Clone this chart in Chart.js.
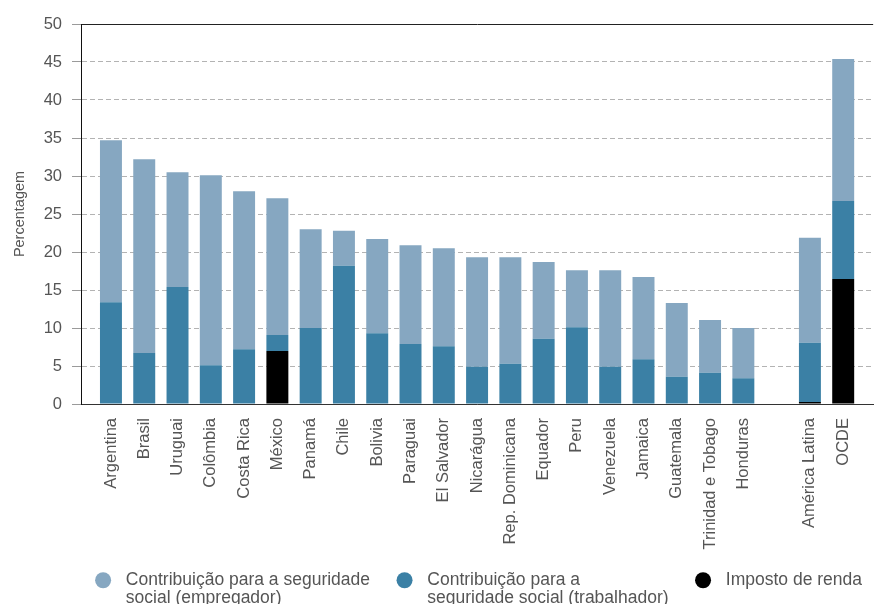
<!DOCTYPE html>
<html>
<head>
<meta charset="utf-8">
<script src="https://cdn.jsdelivr.net/npm/chart.js@4.4.1/dist/chart.umd.min.js"></script>
<style>
html,body{margin:0;padding:0;background:#fff;overflow:hidden}
#wrap{width:877px;height:604px;position:relative}
</style>
</head>
<body>
<div id="wrap"><canvas id="c"></canvas></div>
<script>
// ---- data ----
const categories = ['Argentina','Brasil','Uruguai','Colômbia','Costa Rica','México','Panamá','Chile','Bolivia','Paraguai','El Salvador','Nicarágua','Rep. Dominicana','Equador','Peru','Venezuela','Jamaica','Guatemala','Trinidad e Tobago','Honduras','','América Latina','OCDE'];
const impostoRenda = [0,0,0,0,0,6.97,0,0,0,0,0,0,0,0,0,0,0,0,0,0,null,0.26,16.45];
const trabalhador  = [13.4,6.7,15.4,5.1,7.2,2.1,10.0,18.2,9.3,7.9,7.6,4.9,5.3,8.6,10.1,4.9,5.9,3.6,4.1,3.4,null,7.8,10.25];
const empregador   = [21.3,25.5,15.1,25.0,20.8,18.0,13.0,4.6,12.4,13.0,12.9,14.4,14.0,10.1,7.5,12.7,10.8,9.7,6.95,6.6,null,13.8,18.7];
const yTickValues  = [0,5,10,15,20,25,30,35,40,45,50];
const labelEmpregador  = 'Contribuição para a seguridade\nsocial (empregador)';
const labelTrabalhador = 'Contribuição para a\nseguridade social (trabalhador)';
const labelImposto     = 'Imposto de renda';
const yTitle = 'Percentagem';

// ---- styles ----
const colEmpregador = '#86a7c1';
const colTrabalhador = '#3b80a5';
const colImposto = '#000000';
const textColor = '#555555';
const FONT = "'Liberation Sans', Arial, sans-serif";
const LEGEND_H = 47.5;

// legend drawn on the canvas (multi-line labels, circle markers)
const customLegend = {
  id: 'customLegend',
  afterDraw(chart){
    const ctx = chart.ctx;
    const size = 17.5, pad = 15, boxW = 32;
    ctx.save();
    ctx.font = size + 'px ' + FONT;
    ctx.textBaseline = 'middle';
    ctx.textAlign = 'left';
    const items = chart.data.datasets.map(ds => ({lines: ds.label.split('\n'), color: ds.backgroundColor})).reverse();
    const widths = items.map(it => boxW + size/2 + Math.max(...it.lines.map(l => ctx.measureText(l).width)) + pad);
    let x = chart.width - widths.reduce((a,b) => a + b, 0) - 3;
    const y = chart.height - LEGEND_H + pad + size/2;
    items.forEach((it, i) => {
      ctx.fillStyle = it.color;
      ctx.beginPath(); ctx.arc(x + 18, y, 8, 0, Math.PI*2); ctx.fill();
      ctx.fillStyle = textColor;
      it.lines.forEach((l, j) => ctx.fillText(l, x + boxW + size/2, y + j*size));
      x += widths[i] + 1.5;
    });
    ctx.restore();
  }
};

new Chart(document.getElementById('c'), {
  type: 'bar',
  data: {
    labels: categories,
    datasets: [
      {label: labelImposto, data: impostoRenda, backgroundColor: colImposto},
      {label: labelTrabalhador, data: trabalhador, backgroundColor: colTrabalhador},
      {label: labelEmpregador, data: empregador, backgroundColor: colEmpregador}
    ]
  },
  plugins: [customLegend],
  options: {
    responsive: true,
    maintainAspectRatio: false,
    animation: false,
    layout: {padding: {top: 24, right: 0, left: 0, bottom: LEGEND_H}},
    datasets: {bar: {barPercentage: 1, categoryPercentage: 0.66, borderWidth: 0}},
    plugins: {
      tooltip: {enabled: false},
      legend: {display: false}
    },
    scales: {
      x: {
        stacked: true,
        offset: false,
        afterBuildTicks(s){ s._startValue = -0.9; s._valueRange = s.ticks.length + 0.8; },
        afterFit(s){ s.height = 152.5; },
        grid: {display: false, drawTicks: false},
        border: {display: true, color: '#333', width: 1},
        ticks: {
          autoSkip: false, minRotation: 90, maxRotation: 90, padding: 14,
          color: textColor, font: {family: FONT, size: 16.5}
        }
      },
      y: {
        stacked: true,
        min: 0, max: 50,
        afterBuildTicks(s){ s.ticks = yTickValues.map(v => ({value: v})); },
        afterFit(s){ s.width = 81; },
        grid: {
          color: c => (c.tick && c.tick.value === 50) ? '#222' : '#b3b3b3',
          lineWidth: 1,
          drawTicks: true, tickLength: 9, tickColor: '#9a9a9a', tickBorderDash: []
        },
        border: {display: true, color: '#111', width: 1,
          dash: c => (c.tick && c.tick.value === 50) ? [] : [5,3]},
        ticks: {padding: 10, color: textColor, font: {family: FONT, size: 16.5}},
        title: {display: true, text: yTitle, color: textColor, padding: {top: 11, bottom: 0},
          font: {family: FONT, size: 14.5}}
      }
    }
  }
});
</script>
</body>
</html>
